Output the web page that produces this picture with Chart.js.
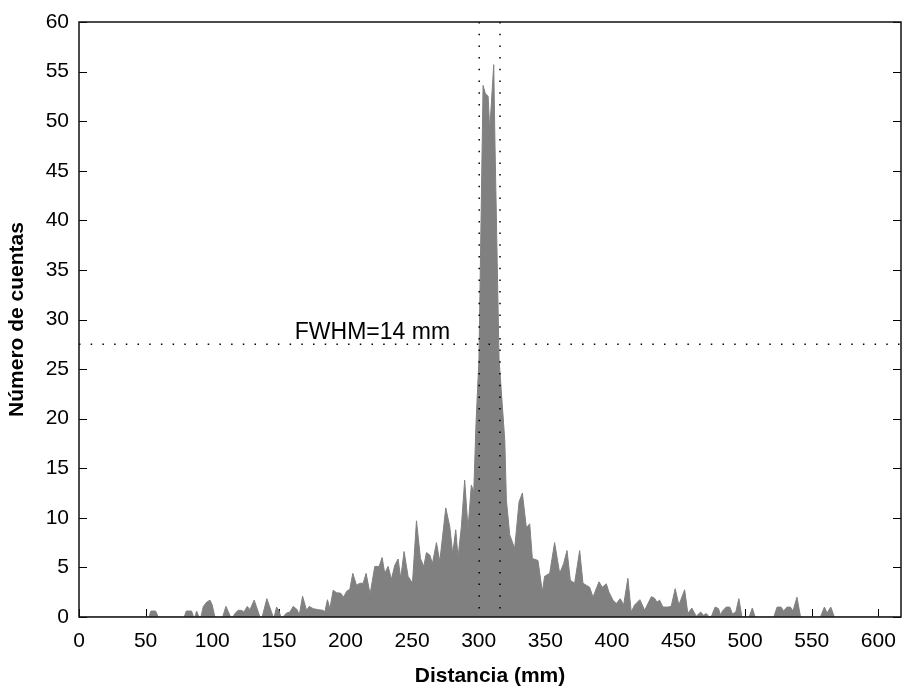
<!DOCTYPE html>
<html><head><meta charset="utf-8">
<script src="https://cdn.jsdelivr.net/npm/chart.js@4/dist/chart.umd.min.js"></script>
<style>html,body{margin:0;padding:0;background:#fff}canvas{display:block}</style>
</head><body>
<canvas id="c" width="902" height="687"></canvas>
<script>
const distances = [0,52.5,54,57.5,59.5,79,80.5,84.5,86,87,88.3,90,91.5,93.3,95.8,98.3,100,102,107.8,110.3,113.8,115.5,117,119.5,122,123.8,126.3,128.3,131.5,135.8,137.5,141,145.8,146.5,148.3,150,151.5,153,155.8,158.3,160.8,163.8,165.3,167.8,170.8,172.8,175.8,179.5,183.3,184.5,186.5,188.3,190.8,193.3,196.5,198.5,201,203.3,205.5,208.3,210.8,213.3,215.5,218.5,222,225.3,227.5,229.5,232,234.5,237,239.5,241.5,244,247,250.3,253.3,256.3,258.8,260.8,263.3,265.3,268.3,270.8,275.3,278.3,280.5,282.8,284.5,287,289.5,292,294.5,296.3,298,300.2,303.3,305,307.1,308.3,311.3,312.2,315.3,319.6,320.8,323.3,327,330.3,332.8,335.8,338.3,340.3,344.5,347.8,349.5,353.3,357,360.8,363.8,366.3,368.8,372,375.8,378.3,380.8,383.3,385.8,390.3,392.8,395.8,397.8,400.8,403.3,406.3,408.8,412,414.5,417,421,424.6,429.6,432,433.8,435.8,438.3,442,444.5,447.5,450.3,454.6,457,460,463.3,466.6,468.8,470.8,472.6,474.5,477.5,480,481.5,483,485.8,488.5,490.5,493,495.3,497.6,503,505.4,507.5,521.5,524,527,528.8,531.5,534,535.9,538.9,541.6,556.5,559.5,561.5,564.3,567,617];
const counts = [0,0,0.6,0.6,0,0,0.6,0.6,0,0,0.6,0,0,1.05,1.5,1.7,1.2,0,0,1.07,0,0,0.35,0.67,0.67,0.5,1.07,0.74,1.7,0,0,1.85,0,0,1.0,0.67,0,0,0.4,0.5,1.07,0.74,0.17,2.1,0.67,1.07,0.84,0.74,0.67,0.5,1.74,0.84,2.7,2.45,2.4,2.0,2.6,2.8,4.4,3.2,3.4,3.4,4.4,2.3,5.1,5.1,6.0,4.4,5.1,3.8,5.2,5.85,3.9,6.6,4.1,3.4,9.7,5.9,5.1,6.5,6.25,5.4,7.5,5.6,11.0,9.1,6.4,8.8,6.0,9.1,13.8,8.9,13.3,12.6,19.5,26,53.6,52.8,52.5,49.1,55.7,48,26,17.8,11.8,8.3,6.9,11.6,12.5,9.0,9.4,5.9,5.7,2.55,4.1,4.4,7.5,4.4,5.4,6.7,3.7,3.4,6.7,3.4,3.2,3.0,2.0,3.55,3.0,3.35,2.5,1.7,1.35,1.85,1.2,3.9,0.5,1.2,1.75,0.67,2.05,1.9,1.5,1.7,1.0,1.0,1.07,2.85,1.2,2.75,0.35,0.9,0.07,0.5,0.17,0.35,0.07,0,1.0,0.85,0.2,0.6,1.0,1.0,0.3,0.5,1.85,0,0,0.9,0,0,1.0,1.0,0.6,1.0,1.0,0.6,2.0,0,0,1.0,0.4,1.0,0,0];
const xTickValues = [0,50,100,150,200,250,300,350,400,450,500,550,600];
const yTickValues = [0,5,10,15,20,25,30,35,40,45,50,55,60];
const fwhmEdges = [300.4, 316.0];
const halfMax = 27.5;
const fwhmText = 'FWHM=14 mm';
const fwhmTextX = 162;

const FONT = '"Liberation Sans", Arial, Helvetica, sans-serif';

const framePlugin = {
  id: 'frame',
  beforeDatasetsDraw(chart) {
    const {ctx, chartArea: a, scales: {x, y}} = chart;
    ctx.save();
    ctx.strokeStyle = '#000';
    ctx.lineWidth = 1;
    ctx.beginPath();
    xTickValues.forEach(v => {
      const px = Math.round(x.getPixelForValue(v)) + 0.5;
      ctx.moveTo(px, a.bottom); ctx.lineTo(px, a.bottom - 8);
    });
    yTickValues.forEach(v => {
      const py = Math.round(y.getPixelForValue(v)) + 0.5;
      ctx.moveTo(a.left, py); ctx.lineTo(a.left + 8, py);
      ctx.moveTo(a.right, py); ctx.lineTo(a.right - 8, py);
    });
    ctx.stroke();
    ctx.restore();
  },
  afterDatasetsDraw(chart) {
    const {ctx, chartArea: a, scales: {x, y}} = chart;
    ctx.save();
    ctx.strokeStyle = '#000';
    ctx.lineWidth = 1.5;
    ctx.setLineDash([1.5, 10.2]);
    ctx.beginPath();
    fwhmEdges.forEach(v => {
      const px = x.getPixelForValue(v);
      ctx.moveTo(px, a.top); ctx.lineTo(px, a.bottom);
    });
    const hy = y.getPixelForValue(halfMax);
    ctx.moveTo(a.left, hy); ctx.lineTo(a.right, hy);
    ctx.stroke();
    ctx.setLineDash([]);
    ctx.lineWidth = 1.5;
    ctx.strokeStyle = '#111';
    ctx.strokeRect(a.left, a.top, a.right - a.left, a.bottom - a.top);
    ctx.fillStyle = '#000';
    ctx.font = '23px ' + FONT;
    ctx.textAlign = 'left';
    ctx.textBaseline = 'alphabetic';
    ctx.fillText(fwhmText, x.getPixelForValue(fwhmTextX), hy - 5);
    ctx.restore();
  }
};

new Chart(document.getElementById('c'), {
  type: 'line',
  data: {
    datasets: [{
      data: distances.map((d, i) => ({x: d, y: counts[i]})),
      fill: 'origin',
      backgroundColor: '#808080',
      borderColor: '#808080',
      borderWidth: 1,
      pointRadius: 0,
      tension: 0
    }]
  },
  options: {
    responsive: false,
    animation: false,
    layout: {padding: {top: 22, right: 1, left: 0, bottom: 0}},
    plugins: {legend: {display: false}, tooltip: {enabled: false}},
    scales: {
      x: {
        type: 'linear', min: 0, max: 617,
        grid: {display: false, drawTicks: false},
        border: {display: false},
        afterBuildTicks: s => { s.ticks = xTickValues.map(v => ({value: v})); },
        afterFit: s => { s.height = 70; s.paddingLeft = 0; s.paddingRight = 0; },
        ticks: {color: '#000', font: {family: FONT, size: 21}, padding: 12, maxRotation: 0, autoSkip: false},
        title: {display: true, text: 'Distancia (mm)', color: '#000', font: {family: FONT, size: 21, weight: 'bold', lineHeight: 1.0}, padding: {top: 0, bottom: 0}}
      },
      y: {
        type: 'linear', min: 0, max: 60,
        grid: {display: false, drawTicks: false},
        border: {display: false},
        afterBuildTicks: s => { s.ticks = yTickValues.map(v => ({value: v})); },
        afterFit: s => { s.width = 79; s.paddingTop = 0; s.paddingBottom = 0; },
        ticks: {color: '#000', font: {family: FONT, size: 21}, padding: 10, autoSkip: false},
        title: {display: true, text: 'Número de cuentas', color: '#000', font: {family: FONT, size: 21, weight: 'bold', lineHeight: 1.0}, padding: {top: 7, bottom: 0}}
      }
    }
  },
  plugins: [framePlugin]
});
</script>
</body></html>
